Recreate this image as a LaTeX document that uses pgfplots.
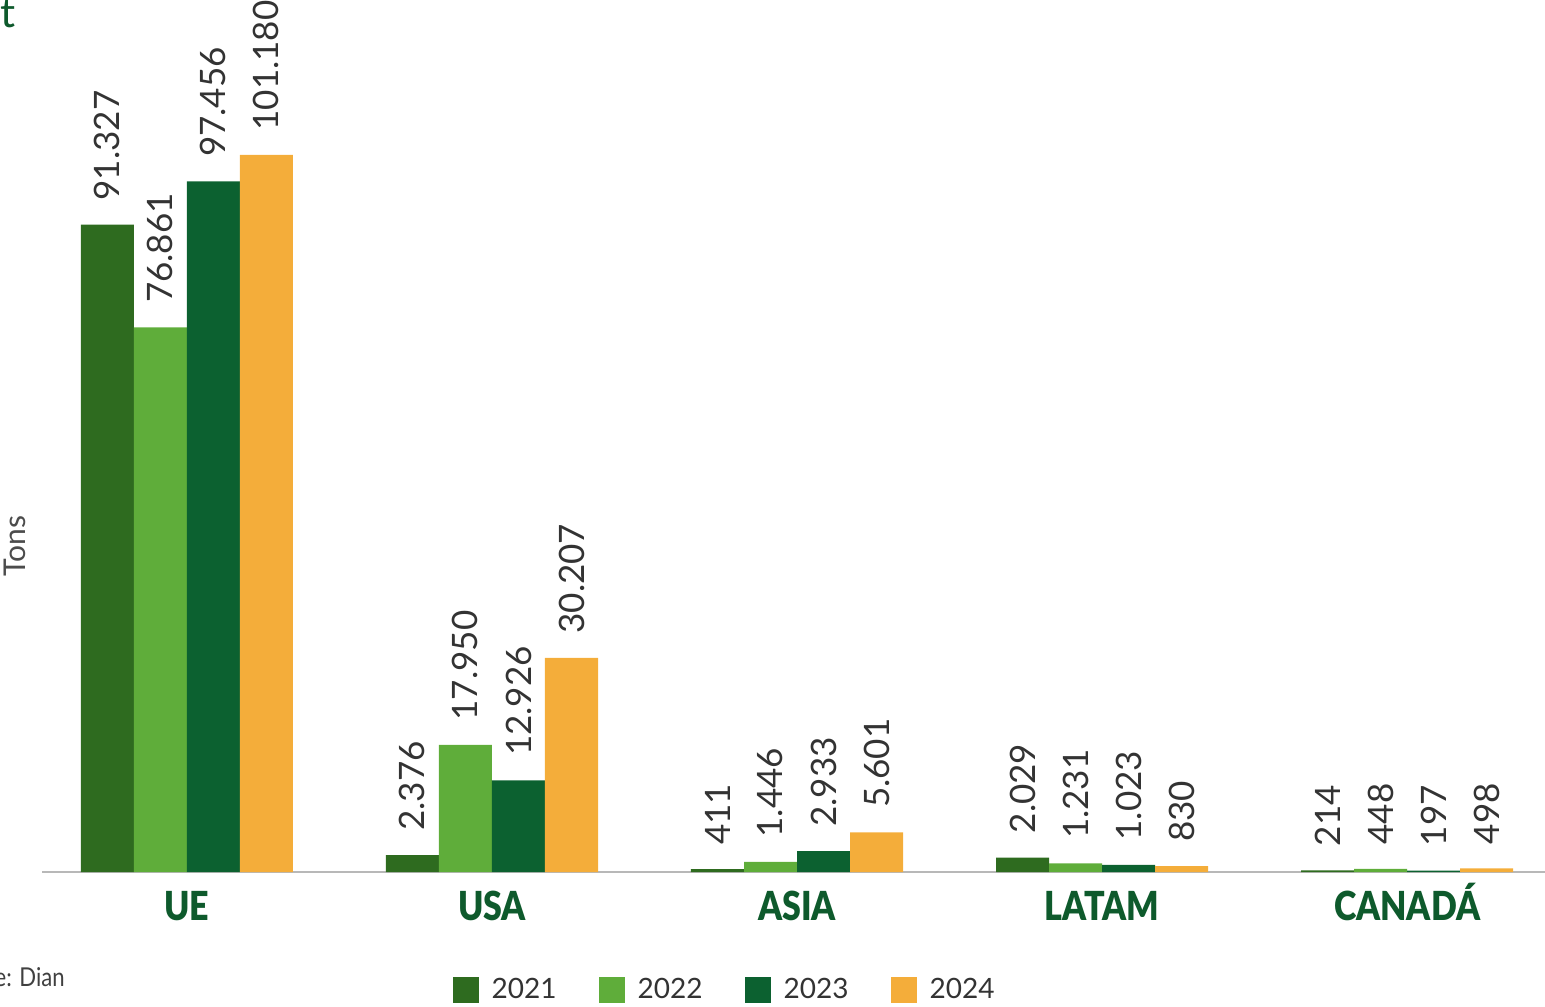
\documentclass[border=0pt]{standalone}
\usepackage{fontspec}
\setmainfont{Lato}
\newfontfamily\narrowfont{Lato}[FakeStretch=0.85]
\IfFontExistsTF{Lato Black}
  {\newfontfamily\catfont{Lato Black}[FakeStretch=0.85]}
  {\newfontfamily\catfont{Lato}[FakeStretch=0.85,UprightFont={* Bold}]}
\usepackage{pgfplots}
\pgfplotsset{compat=1.18}
\definecolor{cA}{HTML}{2E6B1F}
\definecolor{cB}{HTML}{5FAD3A}
\definecolor{cC}{HTML}{0C6130}
\definecolor{cD}{HTML}{F4AD3A}
\definecolor{cat}{HTML}{0E5A2C}
\definecolor{lab}{HTML}{333333}
\begin{document}
\begin{tikzpicture}
\begin{axis}[
 width=751.5pt, height=436pt, scale only axis,
 xmin=-0.475, xmax=4.452, ymin=0, ymax=123040,
 ybar=0pt, bar width=0.1738,
 axis x line*=bottom, axis y line=none,
 x axis line style={draw=black!28, line width=1pt, -},
 xtick={0,1,2,3,4}, xticklabels={UE,USA,ASIA,LATAM,CANADÁ},
 major tick length=0pt,
 xticklabel style={anchor=base, inner sep=0pt, yshift=-24pt, font=\catfont\fontsize{20}{22}\selectfont, text=cat},
 ytick=\empty,
 clip=false,
 nodes near coords={\pgfmathprintnumber{\pgfplotspointmeta}},
 /pgf/number format/fixed,
 /pgf/number format/precision=0,
 /pgf/number format/1000 sep={.},
 /pgf/number format/assume math mode=true,
 every node near coord/.append style={rotate=90, anchor=west, inner xsep=12pt, inner ysep=0pt, font=\fontsize{17.5}{20}\selectfont, text=lab},
 legend columns=4,
 legend style={at={(axis description cs:0.4548,-0.1353)}, anchor=center, draw=none, fill=none,
   font=\fontsize{14}{16}\selectfont, text=lab,
   /tikz/every odd column/.append style={column sep=4.5pt},
   /tikz/every even column/.append style={column sep=19pt}},
 legend image code/.code={\fill[#1] (0pt,-6.5pt) rectangle (13pt,6.5pt);},
]
\addplot[fill=cA, draw=none] coordinates {(0,91327) (1,2376) (2,411) (3,2029) (4,214)};
\addlegendentry{2021}
\addplot[fill=cB, draw=none] coordinates {(0,76861) (1,17950) (2,1446) (3,1231) (4,448)};
\addlegendentry{2022}
\addplot[fill=cC, draw=none] coordinates {(0,97456) (1,12926) (2,2933) (3,1023) (4,197)};
\addlegendentry{2023}
\addplot[fill=cD, draw=none] coordinates {(0,101180) (1,30207) (2,5601) (3,830) (4,498)};
\addlegendentry{2024}
\coordinate (bl) at (rel axis cs:0,0);
\coordinate (tr) at (rel axis cs:1,1);
\end{axis}
\node[anchor=center, rotate=90, inner sep=0pt, font=\fontsize{15}{18}\selectfont, text=black!70] at ([shift={(-13.5pt,163pt)}]bl) {Tons};
\node[anchor=base west, inner sep=0pt, font=\fontsize{21}{24}\selectfont, text=cat] at ([shift={(-21pt,422pt)}]bl) {t};
\node[anchor=base east, inner sep=0pt, font=\narrowfont\fontsize{13}{16}\selectfont, text=black!75] at ([shift={(11.5pt,-57pt)}]bl) {Fuente: Dian};
\pgfresetboundingbox
\useasboundingbox ([shift={(-21pt,-67pt)}]bl) rectangle (tr);
\end{tikzpicture}
\end{document}
